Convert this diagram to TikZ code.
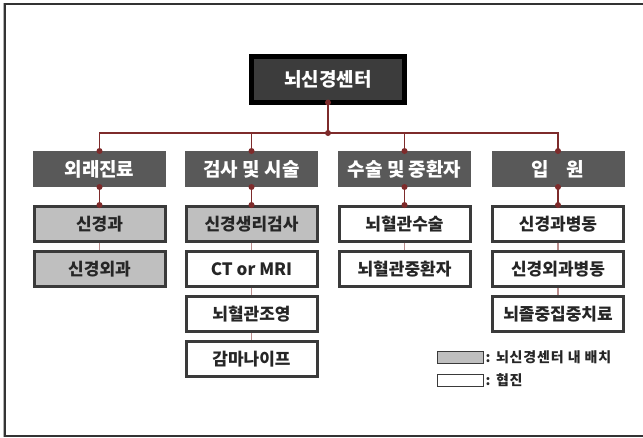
\documentclass[tikz,border=0pt]{standalone}
\usepackage{fontspec}
\setmainfont{Noto Sans CJK KR}
\newfontfamily\legfont{Noto Sans CJK KR}[LetterSpace=6]
\definecolor{cA}{HTML}{3C3C3C}
\definecolor{cHead}{HTML}{595959}
\definecolor{cGray}{HTML}{BFBFBF}
\definecolor{cBord}{HTML}{3A3A3A}
\definecolor{cRed}{HTML}{7E2B2B}
\definecolor{cPink}{HTML}{B98C8C}
\definecolor{cText}{HTML}{262626}
\begin{document}
\begin{tikzpicture}[x=1pt,y=-1pt,
  topbox/.style={fill=cA,draw=black,line width=5pt,minimum width=153pt,minimum height=46pt,inner sep=0pt,outer sep=0pt,text=white,font=\bfseries\fontsize{19}{22}\selectfont},
  hdr/.style={fill=cHead,minimum width=133pt,minimum height=36pt,inner sep=0pt,outer sep=0pt,text=white,font=\bfseries\fontsize{19}{22}\selectfont},
  child/.style={draw=cBord,line width=3pt,minimum width=131pt,minimum height=35pt,inner sep=0pt,text=cText,font=\bfseries\fontsize{17}{20}\selectfont},
  ingray/.style={child,fill=cGray},
  inwhite/.style={child,fill=white},
  redline/.style={draw=cRed,line width=1.2pt},
  pinkline/.style={draw=cPink,line width=1.2pt},
  legbox/.style={draw=cBord,line width=1pt,minimum width=46pt,minimum height=12pt,inner sep=0pt},
  legtext/.style={anchor=west,text=cText,inner sep=2pt,font=\legfont\bfseries\fontsize{14}{16}\selectfont}
]
\clip (0,0) rectangle (643,437);
\fill[white] (0,0) rectangle (643,437);
\draw[line width=1pt,black!30] (3.5,3) -- (3.5,437);
\draw[line width=1.6pt,black!80] (5,4) rectangle (680,436);

% top
\node[topbox] (top) at (328,79.5) {뇌신경센터};
\coordinate (bar) at (328,133);

% headers
\node[hdr] (h1) at (99.5,169) {외래진료};
\node[hdr] (h2) at (251.5,169) {검사 및 시술};
\node[hdr] (h3) at (404.5,169) {수술 및 중환자};
\node[hdr] (h4) at (558,169) {입\hspace{0.9em}원};

% children
\node[ingray] (c11) at (99.5,224) {신경과};
\node[ingray] (c12) at (99.5,269) {신경외과};

\node[ingray] (c21) at (251.5,224) {신경생리검사};
\node[inwhite] (c22) at (251.5,269) {CT or MRI};
\node[inwhite] (c23) at (251.5,314) {뇌혈관조영};
\node[inwhite] (c24) at (251.5,359) {감마나이프};

\node[inwhite] (c31) at (404.5,224) {뇌혈관수술};
\node[inwhite] (c32) at (404.5,269) {뇌혈관중환자};

\node[inwhite] (c41) at (558,224) {신경과병동};
\node[inwhite] (c42) at (558,269) {신경외과병동};
\node[inwhite] (c43) at (558,314) {뇌졸중집중치료};

% connectors
\draw[redline] (top.south) -- (bar);
\draw[redline] (bar) -| (h1.north);
\draw[redline] (bar) -| (h2.north);
\draw[redline] (bar) -| (h3.north);
\draw[redline] (bar) -| (h4.north);
\foreach \h in {1,2,3,4}{
  \draw[redline] (h\h.south) -- (c\h1.north);
  \fill[cRed] (h\h.north) circle (3pt);
  \fill[cRed] (h\h.south) circle (3pt);
  \fill[cRed] (c\h1.north) circle (3pt);
}
\fill[cRed] (top.south) circle (3pt);
\fill[cRed] (bar) circle (3pt);

\draw[pinkline] (c11.south) -- (c12.north);
\draw[pinkline] (c21.south) -- (c22.north);
\draw[pinkline] (c22.south) -- (c23.north);
\draw[pinkline] (c23.south) -- (c24.north);
\draw[pinkline] (c31.south) -- (c32.north);
\draw[pinkline] (c41.south) -- (c42.north);
\draw[pinkline] (c42.south) -- (c43.north);

% legend
\node[legbox,fill=cGray] (lg1) at (460,357) {};
\node[legtext] (lt1) at (lg1.east) {: 뇌신경센터 내 배치};
\node[legbox,fill=white] (lg2) at (460,380) {};
\node[legtext] (lt2) at (lg2.east) {: 협진};
\end{tikzpicture}
\end{document}
